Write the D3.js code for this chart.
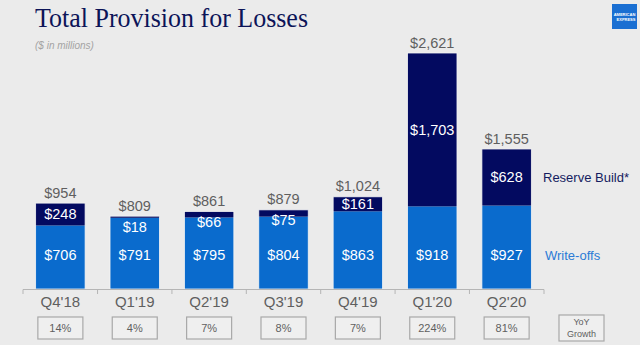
<!DOCTYPE html>
<html>
<head>
<meta charset="utf-8">
<script src="https://cdn.jsdelivr.net/npm/d3@7"></script>
<style>
  body { margin: 0; background: #ebebeb; }
  svg { display: block; font-family: "Liberation Sans", Arial, sans-serif; }
</style>
</head>
<body>
<svg id="chart" width="640" height="345"></svg>
<script>
const quarters = ["Q4'18", "Q1'19", "Q2'19", "Q3'19", "Q4'19", "Q1'20", "Q2'20"];
const writeOffs = [706, 791, 795, 804, 863, 918, 927];
const reserveBuild = [248, 18, 66, 75, 161, 1703, 628];
const totals = [954, 809, 861, 879, 1024, 2621, 1555];
const yoyGrowth = ["14%", "4%", "7%", "8%", "7%", "224%", "81%"];

const navy = "#030a60";
const blue = "#0a6bcd";
const grey = "#5f5f5f";

const svg = d3.select("#chart");
const fmt = d3.format("$,");

// title block
svg.append("text")
    .attr("x", 35).attr("y", 27)
    .attr("font-family", "Liberation Serif, serif")
    .attr("font-size", 28)
    .attr("fill", "#0c1458")
    .attr("textLength", 273)
    .attr("lengthAdjust", "spacingAndGlyphs")
    .text("Total Provision for Losses");

svg.append("text")
    .attr("x", 35).attr("y", 49)
    .attr("font-size", 10)
    .attr("font-style", "italic")
    .attr("fill", "#a3a3a3")
    .text("($ in millions)");

// logo
const logo = svg.append("g").attr("transform", "translate(612,4)");
logo.append("rect").attr("width", 25).attr("height", 25).attr("fill", "#1a6fd2");
logo.append("text").attr("x", 12.5).attr("y", 12).attr("text-anchor", "middle")
    .attr("font-size", 4).attr("font-weight", "bold").attr("fill", "#fff").text("AMERICAN");
logo.append("text").attr("x", 14).attr("y", 17).attr("text-anchor", "middle")
    .attr("font-size", 4).attr("font-weight", "bold").attr("fill", "#fff").text("EXPRESS");

// scales
const x = d3.scaleBand().domain(quarters).range([23, 544]).paddingInner(0.335).paddingOuter(0.17);
const y = d3.scaleLinear().domain([0, 2621]).range([289, 53]);

const data = quarters.map((q, i) => ({
    q, w: writeOffs[i], r: reserveBuild[i], t: totals[i], g: yoyGrowth[i]
}));

const bars = svg.append("g").selectAll("g").data(data).join("g");

bars.append("rect")
    .attr("x", d => x(d.q)).attr("width", x.bandwidth())
    .attr("y", d => y(d.w)).attr("height", d => y(0) - y(d.w))
    .attr("fill", blue);

bars.append("rect")
    .attr("x", d => x(d.q)).attr("width", x.bandwidth())
    .attr("y", d => y(d.w + d.r)).attr("height", d => y(d.w) - y(d.w + d.r))
    .attr("fill", navy);

// thin light outline round each whole bar
bars.append("rect")
    .attr("x", d => x(d.q)).attr("width", x.bandwidth())
    .attr("y", d => y(d.w + d.r)).attr("height", d => y(0) - y(d.w + d.r))
    .attr("fill", "none")
    .attr("stroke", "#f4f4f4").attr("stroke-width", 0.8);

// value labels
bars.append("text")
    .attr("x", d => x(d.q) + x.bandwidth() / 2)
    .attr("y", y(375))
    .attr("dy", "0.35em")
    .attr("text-anchor", "middle")
    .attr("font-size", 14.5).attr("fill", "#fff")
    .text(d => fmt(d.w));

bars.append("text")
    .attr("x", d => x(d.q) + x.bandwidth() / 2)
    .attr("y", d => d.r < 100 ? y(d.w + d.r) + 10.5 : (y(d.w) + y(d.w + d.r)) / 2)
    .attr("dy", "0.35em")
    .attr("text-anchor", "middle")
    .attr("font-size", 14.5).attr("fill", "#fff")
    .text(d => fmt(d.r));

bars.append("text")
    .attr("x", d => x(d.q) + x.bandwidth() / 2)
    .attr("y", d => y(d.t) - 10.5)
    .attr("dy", "0.35em")
    .attr("text-anchor", "middle")
    .attr("font-size", 14.5).attr("fill", grey)
    .text(d => fmt(d.t));

// axis
const axis = svg.append("g");
axis.append("line")
    .attr("x1", 23).attr("x2", 544).attr("y1", 289.5).attr("y2", 289.5)
    .attr("stroke", "#b5b5b5").attr("stroke-width", 1);
const edges = quarters.map(q => x(q) - x.step() * x.paddingInner() / 2).concat([544]);
edges[0] = 23;
axis.selectAll(".tk").data(edges).join("line")
    .attr("x1", d => d).attr("x2", d => d)
    .attr("y1", 289.5).attr("y2", 294)
    .attr("stroke", "#b5b5b5");

svg.append("g").selectAll("text").data(quarters).join("text")
    .attr("x", d => x(d) + x.bandwidth() / 2)
    .attr("y", 302).attr("dy", "0.35em")
    .attr("text-anchor", "middle")
    .attr("font-size", 15).attr("fill", grey)
    .text(d => d);

// yoy growth boxes
const boxes = svg.append("g").selectAll("g").data(data).join("g")
    .attr("transform", d => `translate(${x(d.q) + x.bandwidth() / 2 - 22.5},317)`);
boxes.append("rect")
    .attr("width", 45).attr("height", 22)
    .attr("fill", "#efefef").attr("stroke", "#a8a8a8").attr("stroke-width", 1.2);
boxes.append("text")
    .attr("x", 22.5).attr("y", 11).attr("dy", "0.35em")
    .attr("text-anchor", "middle")
    .attr("font-size", 11).attr("fill", grey)
    .text(d => d.g);

const yoy = svg.append("g").attr("transform", "translate(559,315)");
yoy.append("rect").attr("width", 45).attr("height", 26)
    .attr("fill", "#efefef").attr("stroke", "#a8a8a8").attr("stroke-width", 1.2);
yoy.append("text").attr("x", 22.5).attr("y", 10).attr("text-anchor", "middle")
    .attr("font-size", 9).attr("fill", grey).text("YoY");
yoy.append("text").attr("x", 22.5).attr("y", 22).attr("text-anchor", "middle")
    .attr("font-size", 9).attr("fill", grey).text("Growth");

// legend labels
const last = data[data.length - 1];
svg.append("text")
    .attr("x", 543).attr("y", (y(last.w) + y(last.w + last.r)) / 2).attr("dy", "0.35em")
    .attr("font-size", 13).attr("fill", "#141c60")
    .text("Reserve Build*");
svg.append("text")
    .attr("x", 545).attr("y", y(375)).attr("dy", "0.35em")
    .attr("font-size", 13).attr("fill", "#2b7bd6")
    .text("Write-offs");
</script>
</body>
</html>
